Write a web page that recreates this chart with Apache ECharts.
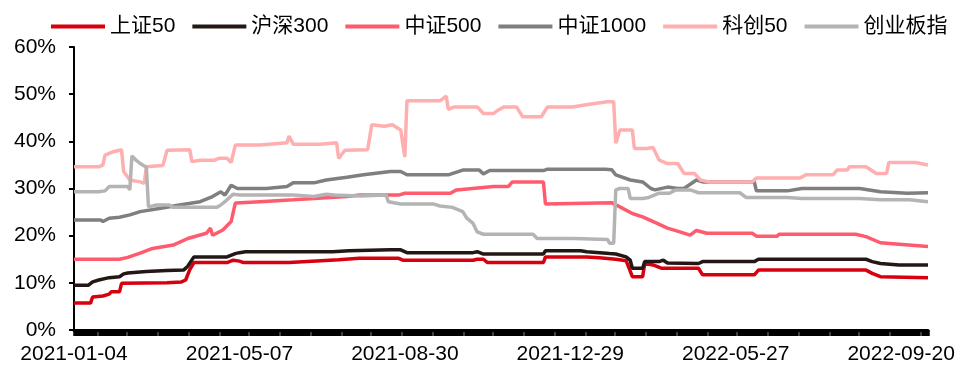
<!DOCTYPE html>
<html>
<head>
<meta charset="utf-8">
<script src="https://cdn.jsdelivr.net/npm/echarts@6/dist/echarts.min.js"></script>
<style>
  html, body { margin: 0; padding: 0; background: #fff; }
  #chart { width: 963px; height: 365px; }
</style>
</head>
<body>
<div id="chart"></div>
<script>
// Trading calendar of the series
const startDate = '2021-01-04';
const endDate = '2022-10-14';
const holidays = [
  '2021-02-11', '2021-02-12', '2021-02-15', '2021-02-16', '2021-02-17',
  '2021-04-05', '2021-05-03', '2021-05-04', '2021-05-05', '2021-06-14',
  '2021-09-20', '2021-09-21', '2021-10-01', '2021-10-04', '2021-10-05',
  '2021-10-06', '2021-10-07',
  '2022-01-03', '2022-01-31', '2022-02-01', '2022-02-02', '2022-02-03',
  '2022-02-04', '2022-04-04', '2022-04-05', '2022-05-02', '2022-05-03',
  '2022-05-04', '2022-06-03', '2022-09-12', '2022-10-03', '2022-10-04',
  '2022-10-05', '2022-10-06', '2022-10-07'
];
// sessions missing from the source table
const noData = [
  '2022-01-04', '2022-01-05', '2022-01-06', '2022-01-07', '2022-01-10',
  '2022-01-11', '2022-01-12', '2022-01-13', '2022-01-14', '2022-01-17',
  '2022-01-18', '2022-01-19', '2022-01-20', '2022-01-21', '2022-01-24',
  '2022-01-25'
];

const xTickLabels = ['2021-01-04', '2021-05-07', '2021-08-30', '2021-12-29', '2022-05-27', '2022-09-20'];
const yTicks = [0, 10, 20, 30, 40, 50, 60];

const seriesNames = ['上证50', '沪深300', '中证500', '中证1000', '科创50', '创业板指'];

// [session index, value in %]
const sz50 = [[0,5.7],[8,5.7],[9,7.0],[14,7.2],[17,7.6],[18,8.1],[22,8.1],[23,9.9],[45,10.0],[52,10.2],[54,10.6],[56,12.8],[58,14.3],[74,14.3],[77,14.8],[80,14.6],[82,14.3],[104,14.3],[115,14.6],[128,14.9],[138,15.2],[157,15.2],[159,14.8],[193,14.8],[195,15.0],[198,15.0],[200,14.3],[227,14.3],[228,15.5],[248,15.5],[254,15.3],[262,15.0],[267,14.7],[269,12.5],[270,11.3],[275,11.3],[276,14.1],[280,13.8],[284,13.1],[302,13.1],[304,11.7],[329,11.7],[331,12.7],[383,12.7],[386,12.0],[390,11.3],[413,11.1]];
const hs300 = [[0,9.5],[7,9.5],[9,10.2],[12,10.6],[17,11.1],[22,11.3],[24,11.9],[26,12.1],[35,12.4],[45,12.6],[53,12.7],[55,13.5],[58,15.5],[74,15.5],[78,16.2],[80,16.4],[83,16.6],[125,16.6],[133,16.8],[153,17.0],[158,17.0],[161,16.4],[193,16.4],[195,16.6],[198,16.1],[227,16.1],[228,16.8],[245,16.8],[248,16.6],[259,16.2],[262,16.1],[267,15.5],[269,14.8],[270,13.1],[275,13.1],[276,14.5],[283,14.5],[285,14.8],[287,14.2],[302,14.1],[304,14.5],[329,14.5],[331,15.0],[383,15.0],[386,14.5],[390,14.1],[399,13.8],[413,13.8]];
const zz500 = [[0,15.0],[22,15.0],[26,15.4],[32,16.3],[38,17.3],[48,18.0],[55,19.4],[64,20.5],[66,21.6],[67,20.1],[72,21.2],[76,23.0],[78,26.9],[90,27.2],[106,27.6],[132,28.3],[138,28.6],[157,28.6],[160,29.0],[182,29.0],[185,29.7],[203,30.4],[210,30.4],[212,31.4],[227,31.4],[228,26.7],[260,27.0],[264,26.1],[270,24.7],[275,24.0],[282,22.6],[287,21.6],[293,20.8],[298,20.1],[301,21.1],[306,20.5],[328,20.5],[330,19.9],[340,19.9],[341,20.3],[378,20.3],[383,19.8],[390,18.5],[396,18.3],[413,17.7]];
const zz1000 = [[0,23.3],[13,23.3],[14,23.0],[17,23.7],[22,23.9],[27,24.4],[32,25.1],[42,25.8],[51,26.5],[61,27.2],[67,28.3],[71,29.3],[73,28.6],[76,30.7],[79,30.0],[93,30.0],[103,30.4],[106,31.2],[116,31.2],[122,31.8],[132,32.4],[140,32.9],[153,33.6],[158,33.6],[161,32.9],[181,32.9],[188,33.9],[196,33.9],[198,33.1],[201,33.8],[227,33.8],[229,34.1],[257,34.1],[260,34.0],[262,32.9],[269,31.8],[275,31.4],[279,30.0],[281,29.7],[287,30.3],[292,30.0],[295,30.0],[301,31.8],[304,31.4],[329,31.4],[330,29.5],[345,29.5],[352,30.0],[380,30.0],[390,29.3],[403,29.0],[413,29.1]];
const kc50 = [[0,34.6],[12,34.6],[14,35.0],[15,37.1],[19,37.8],[23,38.2],[24,33.6],[27,31.8],[32,31.4],[34,31.1],[35,34.6],[43,34.9],[45,38.1],[56,38.2],[57,35.7],[61,36.0],[68,36.0],[70,36.4],[74,36.4],[76,35.5],[78,39.2],[90,39.2],[103,39.7],[104,41.1],[106,39.4],[119,39.4],[127,39.7],[128,36.4],[131,38.1],[142,38.2],[144,43.5],[150,43.2],[154,43.5],[158,42.4],[160,36.7],[161,48.6],[177,48.6],[180,49.6],[181,46.8],[184,47.3],[195,47.3],[198,45.9],[203,45.9],[205,46.6],[208,47.3],[214,47.3],[217,45.2],[226,45.2],[227,45.9],[229,47.3],[241,47.3],[250,47.9],[258,48.4],[261,48.4],[262,39.6],[264,42.4],[270,42.4],[271,38.5],[277,38.5],[280,38.7],[283,36.0],[287,35.3],[292,35.3],[295,33.2],[300,33.2],[303,31.8],[307,31.4],[328,31.4],[330,32.2],[351,32.2],[354,32.9],[367,32.9],[369,33.9],[374,33.9],[375,34.6],[383,34.6],[388,33.2],[393,33.2],[394,35.5],[407,35.5],[413,35.0]];
const cyb = [[0,29.3],[12,29.3],[15,29.5],[17,30.4],[26,30.4],[27,29.7],[28,36.9],[30,36.0],[32,35.3],[35,34.5],[36,26.1],[40,26.5],[46,26.5],[48,26.0],[69,26.0],[71,26.5],[74,27.6],[77,28.8],[80,28.6],[106,28.6],[116,28.3],[122,28.8],[126,28.6],[138,28.4],[151,28.6],[152,27.2],[158,26.7],[174,26.7],[177,26.3],[183,26.0],[188,25.1],[190,23.7],[193,22.6],[195,20.8],[198,20.3],[222,20.3],[224,19.4],[242,19.4],[258,19.2],[259,18.4],[261,18.4],[262,29.7],[264,30.0],[268,30.0],[269,27.9],[275,27.9],[278,28.1],[283,29.0],[288,29.0],[291,29.7],[298,29.7],[302,29.1],[322,29.1],[325,28.1],[345,28.1],[352,27.9],[380,27.9],[390,27.6],[404,27.6],[413,27.2]];

const seriesData = [sz50, hs300, zz500, zz1000, kc50, cyb];
const colors = ['#d7000f', '#231815', '#ff5b6e', '#7f7f7f', '#ffafaf', '#b4b4b4'];

function buildDates() {
  const skip = new Set(holidays.concat(noData));
  const out = [];
  const d = new Date(startDate + 'T00:00:00Z');
  const end = new Date(endDate + 'T00:00:00Z');
  while (d <= end) {
    const wd = d.getUTCDay();
    const s = d.toISOString().slice(0, 10);
    if (wd !== 0 && wd !== 6 && !skip.has(s)) out.push(s);
    d.setUTCDate(d.getUTCDate() + 1);
  }
  return out;
}
const dates = buildDates();

const font = "'Liberation Sans', 'Noto Sans CJK SC', sans-serif";
const chart = echarts.init(document.getElementById('chart'), null, { renderer: 'canvas' });

chart.setOption({
  animation: false,
  backgroundColor: '#fff',
  color: colors,
  textStyle: { fontFamily: font },
  legend: {
    data: seriesNames,
    left: 46,
    top: 11,
    icon: 'rect',
    itemWidth: 54,
    itemHeight: 4,
    itemGap: 17,
    textStyle: { fontSize: 21, color: '#000', fontFamily: font }
  },
  grid: { left: 74, right: 35, top: 47, bottom: 35 },
  xAxis: {
    type: 'category',
    data: dates,
    boundaryGap: false,
    axisLine: { lineStyle: { color: '#000', width: 3 } },
    axisTick: { show: true, interval: 0, length: 6, lineStyle: { color: '#000', width: 2.5 } },
    axisLabel: {
      interval: (i, v) => xTickLabels.includes(v),
      fontSize: 21,
      color: '#000',
      margin: 14,
      fontFamily: font
    },
    splitLine: { show: false }
  },
  yAxis: {
    type: 'value',
    min: yTicks[0],
    max: yTicks[yTicks.length - 1],
    interval: yTicks[1] - yTicks[0],
    axisLine: { show: true, lineStyle: { color: '#000', width: 2 } },
    axisTick: { show: true, length: 5, lineStyle: { color: '#000', width: 2 } },
    axisLabel: { formatter: '{value}%', fontSize: 21, color: '#000', margin: 18, fontFamily: font },
    splitLine: { show: false }
  },
  series: seriesNames.map((name, k) => ({
    name,
    type: 'line',
    data: seriesData[k],
    symbol: 'none',
    showSymbol: false,
    lineStyle: { width: 3.5, color: colors[k] },
    itemStyle: { color: colors[k] }
  }))
});
</script>
</body>
</html>
